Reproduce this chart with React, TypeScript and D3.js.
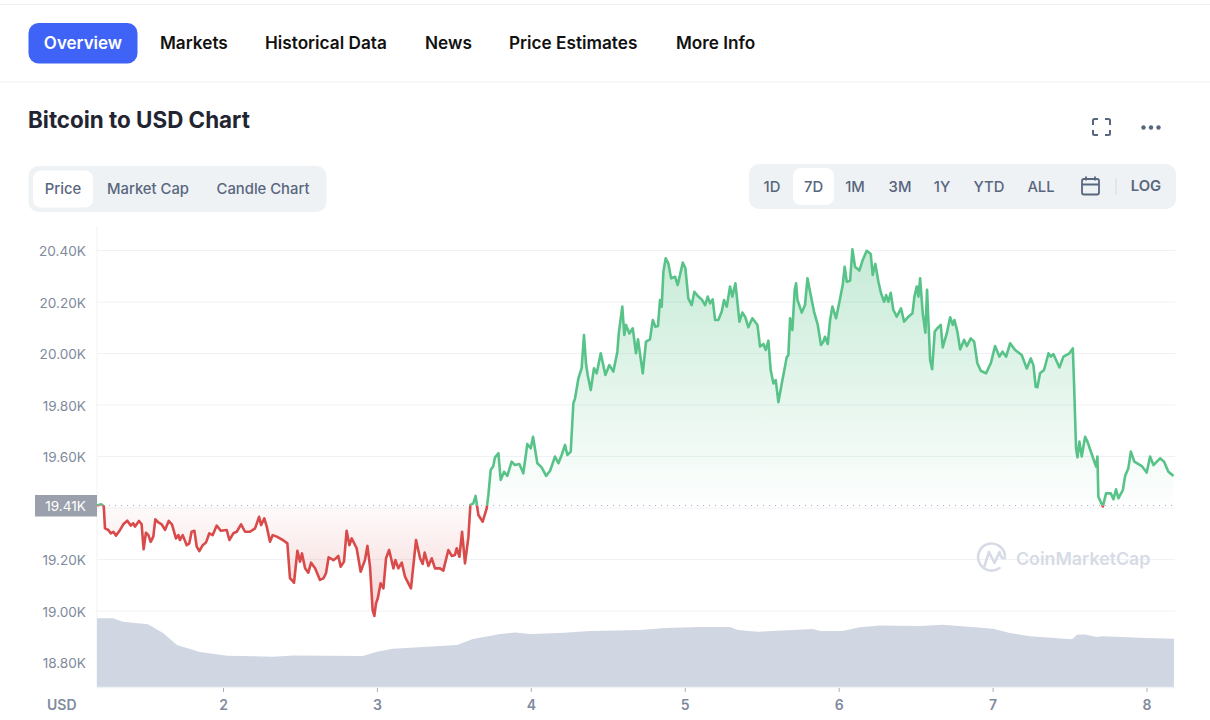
import * as d3 from 'd3';

const W = 1210;
const H = 720;

// price series: day of month and USD
const priceDays = [
  1.180, 1.205, 1.222, 1.230, 1.252, 1.267, 1.284, 1.302, 1.328, 1.349, 1.375, 1.397, 1.414, 1.425, 1.451, 1.468, 1.481, 1.496, 1.512, 1.527,
  1.544, 1.557, 1.577, 1.598, 1.620, 1.644, 1.665, 1.691, 1.707, 1.717, 1.735, 1.761, 1.778, 1.793, 1.811, 1.826, 1.843, 1.865, 1.886, 1.908,
  1.930, 1.956, 1.982, 2.021, 2.038, 2.064, 2.086, 2.114, 2.140, 2.172, 2.205, 2.231, 2.244, 2.265, 2.281, 2.302, 2.320, 2.346, 2.385, 2.415,
  2.432, 2.443, 2.458, 2.480, 2.497, 2.510, 2.530, 2.551, 2.569, 2.595, 2.627, 2.649, 2.666, 2.683, 2.714, 2.731, 2.746, 2.761, 2.783, 2.800,
  2.818, 2.833, 2.865, 2.891, 2.919, 2.935, 2.952, 2.969, 2.980, 2.991, 3.002, 3.021, 3.039, 3.056, 3.076, 3.104, 3.117, 3.136, 3.158, 3.179,
  3.218, 3.251, 3.277, 3.294, 3.307, 3.331, 3.353, 3.374, 3.407, 3.428, 3.461, 3.483, 3.504, 3.515, 3.533, 3.550, 3.569, 3.591, 3.604, 3.623,
  3.638, 3.656, 3.684, 3.710, 3.721, 3.736, 3.753, 3.764, 3.786, 3.801, 3.823, 3.844, 3.872, 3.894, 3.922, 3.948, 3.974, 3.996, 4.011, 4.039,
  4.067, 4.096, 4.122, 4.154, 4.176, 4.197, 4.219, 4.234, 4.256, 4.273, 4.284, 4.306, 4.327, 4.342, 4.355, 4.366, 4.386, 4.407, 4.425, 4.451,
  4.481, 4.507, 4.533, 4.559, 4.568, 4.591, 4.604, 4.615, 4.637, 4.659, 4.680, 4.693, 4.724, 4.745, 4.771, 4.789, 4.806, 4.823, 4.836, 4.847,
  4.858, 4.873, 4.890, 4.908, 4.934, 4.951, 4.984, 5.001, 5.020, 5.042, 5.059, 5.085, 5.107, 5.129, 5.146, 5.161, 5.178, 5.194, 5.215, 5.237,
  5.252, 5.270, 5.291, 5.306, 5.326, 5.352, 5.371, 5.389, 5.410, 5.436, 5.469, 5.486, 5.508, 5.523, 5.540, 5.555, 5.573, 5.588, 5.605, 5.627,
  5.642, 5.659, 5.670, 5.681, 5.696, 5.711, 5.720, 5.729, 5.757, 5.778, 5.794, 5.811, 5.837, 5.861, 5.882, 5.897, 5.908, 5.926, 5.941, 5.956,
  5.980, 6.006, 6.023, 6.036, 6.049, 6.071, 6.086, 6.103, 6.131, 6.153, 6.179, 6.205, 6.218, 6.235, 6.255, 6.272, 6.292, 6.305, 6.320, 6.335,
  6.352, 6.374, 6.402, 6.422, 6.450, 6.476, 6.489, 6.504, 6.515, 6.526, 6.543, 6.560, 6.571, 6.591, 6.604, 6.621, 6.638, 6.660, 6.673, 6.699,
  6.721, 6.738, 6.749, 6.768, 6.786, 6.812, 6.829, 6.855, 6.877, 6.898, 6.920, 6.954, 6.985, 7.013, 7.041, 7.061, 7.085, 7.111, 7.143, 7.186,
  7.219, 7.245, 7.262, 7.277, 7.288, 7.305, 7.331, 7.360, 7.375, 7.392, 7.431, 7.457, 7.496, 7.518, 7.526, 7.539, 7.548, 7.561, 7.576, 7.598,
  7.613, 7.643, 7.669, 7.678, 7.684, 7.713, 7.734, 7.765, 7.782, 7.799, 7.814, 7.843, 7.858, 7.879, 7.895, 7.918, 7.966, 7.998, 8.020, 8.042,
  8.085, 8.111, 8.139, 8.172,
];
const priceValues = [
  19410, 19415, 19408, 19321, 19315, 19302, 19308, 19293, 19315, 19337, 19351, 19332, 19341, 19328, 19350, 19337, 19240, 19304, 19295, 19269,
  19289, 19356, 19344, 19337, 19315, 19350, 19337, 19282, 19295, 19276, 19295, 19256, 19263, 19308, 19312, 19250, 19233, 19256, 19266, 19302,
  19295, 19332, 19312, 19315, 19276, 19302, 19308, 19337, 19308, 19308, 19321, 19366, 19334, 19360, 19328, 19269, 19295, 19289, 19276, 19263,
  19127, 19121, 19110, 19234, 19192, 19224, 19166, 19149, 19188, 19166, 19121, 19127, 19147, 19209, 19198, 19205, 19214, 19172, 19192, 19312,
  19256, 19282, 19244, 19153, 19198, 19253, 19172, 19004, 18981, 19030, 19049, 19108, 19088, 19205, 19237, 19166, 19198, 19166, 19188, 19134,
  19088, 19276, 19205, 19183, 19227, 19175, 19205, 19166, 19166, 19157, 19237, 19214, 19218, 19244, 19211, 19308, 19185, 19286, 19412, 19418,
  19447, 19373, 19347, 19399, 19451, 19548, 19563, 19597, 19613, 19509, 19541, 19525, 19580, 19567, 19571, 19535, 19649, 19632, 19677, 19574,
  19558, 19525, 19545, 19600, 19574, 19606, 19645, 19606, 19619, 19807, 19826, 19904, 19943, 20072, 19962, 19917, 19858, 19943, 19923, 20001,
  19917, 19955, 19930, 20007, 20078, 20182, 20072, 20111, 20078, 20098, 20001, 20055, 19923, 20046, 20055, 20130, 20104, 20107, 20208, 20182,
  20318, 20370, 20350, 20292, 20298, 20266, 20353, 20331, 20214, 20188, 20240, 20221, 20210, 20188, 20221, 20195, 20210, 20130, 20130, 20163,
  20208, 20182, 20260, 20221, 20273, 20124, 20159, 20143, 20102, 20137, 20111, 20027, 20037, 20014, 20050, 19936, 19884, 19897, 19811, 19884,
  19930, 19985, 19994, 20137, 20091, 20247, 20273, 20208, 20159, 20188, 20292, 20240, 20162, 20111, 20033, 20046, 20065, 20037, 20130, 20182,
  20137, 20214, 20266, 20337, 20279, 20283, 20405, 20337, 20322, 20363, 20399, 20386, 20305, 20348, 20279, 20234, 20201, 20227, 20201, 20236,
  20169, 20143, 20175, 20124, 20143, 20156, 20221, 20260, 20221, 20292, 20156, 20081, 20247, 19975, 19939, 20085, 20098, 20111, 20024, 20078,
  20141, 20111, 20130, 20085, 20016, 20053, 20029, 20059, 20046, 19962, 19933, 19923, 19962, 20029, 19988, 20007, 19988, 20040, 20014, 19994,
  19942, 19981, 19955, 19871, 19869, 19923, 19936, 20001, 19988, 19998, 19946, 19988, 20001, 20020, 19884, 19632, 19597, 19658, 19600, 19677,
  19658, 19606, 19561, 19600, 19444, 19406, 19457, 19457, 19434, 19473, 19438, 19470, 19525, 19555, 19619, 19580, 19563, 19538, 19600, 19567,
  19593, 19580, 19541, 19525,
];

// volume band at the bottom, in billions of USD
const volumeDays = [
  1.178, 1.282, 1.347, 1.509, 1.607, 1.698, 1.847, 2.023, 2.322, 2.452, 2.906, 2.997, 3.101, 3.517, 3.621, 3.797, 3.894, 3.992, 4.186, 4.381,
  4.706, 4.868, 5.096, 5.291, 5.343, 5.473, 5.830, 5.876, 6.019, 6.136, 6.266, 6.525, 6.675, 7.000, 7.110, 7.240, 7.513, 7.546, 7.597, 7.675,
  7.708, 8.000, 8.175,
];
const volumeValues = [
  40.4, 40.4, 38.4, 36.9, 31.8, 24.7, 20.6, 18.4, 17.8, 18.6, 18.2, 20.8, 22.5, 24.7, 28.2, 31.2, 32.1, 31.2, 31.8, 32.9,
  33.5, 34.7, 35.3, 35.3, 33.5, 32.5, 34.1, 32.9, 32.9, 35.1, 36.2, 35.9, 36.6, 34.3, 31.8, 29.8, 28.1, 30.8, 30.9, 29.4,
  29.8, 28.8, 28.4,
];

const baseline = 19410;
const yTicks = [18800, 19000, 19200, 19400, 19600, 19800, 20000, 20200, 20400];
const xTicks = [2, 3, 4, 5, 6, 7, 8];

const navItems = [
  { label: 'Markets', x: 160 },
  { label: 'Historical Data', x: 265 },
  { label: 'News', x: 425 },
  { label: 'Price Estimates', x: 509 },
  { label: 'More Info', x: 676 },
];
const chartTabs = [
  { label: 'Price', x: 63 },
  { label: 'Market Cap', x: 148 },
  { label: 'Candle Chart', x: 263 },
];
const ranges = [
  { label: '1D', x: 772 },
  { label: '7D', x: 813.5 },
  { label: '1M', x: 855 },
  { label: '3M', x: 900 },
  { label: '1Y', x: 942 },
  { label: 'YTD', x: 989 },
  { label: 'ALL', x: 1041 },
];

const xScale = d3.scaleLinear([2, 8], [223.5, 1147]);
const yScale = d3.scaleLinear([18800, 20400], [662.6, 250.5]);
const volScale = d3.scaleLinear([0, 50], [687, 602]);

const GREEN = '#58c388';
const RED = '#d94a4b';
const GRID = '#eff2f5';
const MUTED = '#808a9d';
const SLATE = '#58667e';
const FONT = 'Inter, "Noto Sans", sans-serif';

const prices = priceDays.map((d, i) => ({ d, v: priceValues[i] }));
const volumes = volumeDays.map((d, i) => ({ d, v: volumeValues[i] }));

const priceLine = d3.line<{ d: number; v: number }>().x(p => xScale(p.d)).y(p => yScale(p.v));
const priceArea = d3.area<{ d: number; v: number }>().x(p => xScale(p.d)).y0(yScale(baseline)).y1(p => yScale(p.v));
const volumeArea = d3.area<{ d: number; v: number }>().x(p => xScale(p.d)).y0(volScale(0)).y1(p => volScale(p.v));

export default function App() {
  const base = yScale(baseline);
  return (
    <svg width={W} height={H} viewBox={`0 0 ${W} ${H}`} fontFamily={FONT}
      style={{ position: 'absolute', left: 0, top: 0, background: '#fff' }}>
      <defs>
        <linearGradient id="upFill" gradientUnits="userSpaceOnUse" x1="0" x2="0" y1={250} y2={base}>
          <stop offset="0" stopColor={GREEN} stopOpacity={0.34} />
          <stop offset="1" stopColor={GREEN} stopOpacity={0.01} />
        </linearGradient>
        <linearGradient id="downFill" gradientUnits="userSpaceOnUse" x1="0" x2="0" y1={base} y2={617}>
          <stop offset="0" stopColor={RED} stopOpacity={0.02} />
          <stop offset="1" stopColor={RED} stopOpacity={0.24} />
        </linearGradient>
        <clipPath id="above"><rect x={90} y={220} width={1100} height={base - 220} /></clipPath>
        <clipPath id="below"><rect x={90} y={base} width={1100} height={140} /></clipPath>
      </defs>

      {/* top nav */}
      <line x1={0} x2={W} y1={4.5} y2={4.5} stroke={GRID} />
      <line x1={0} x2={W} y1={82} y2={82} stroke={GRID} />
      <rect x={28.5} y={23} width={109} height={40.5} rx={10} fill="#3f63f6" />
      <text x={83} y={49} textAnchor="middle" fontSize={17} fontWeight={600} fill="#fff">Overview</text>
      {navItems.map(n => (
        <text key={n.label} x={n.x} y={49} fontSize={17.2} fontWeight={600} fill="#111">{n.label}</text>
      ))}

      <text x={28} y={127.5} fontSize={22.4} fontWeight={700} fill="#222531">Bitcoin to USD Chart</text>

      {/* fullscreen + more icons */}
      <path d="M1093 125v-4.5a1.5 1.5 0 0 1 1.5-1.5h3.5M1105 119h3.5a1.5 1.5 0 0 1 1.5 1.5v4.5M1110 130v3.5a1.5 1.5 0 0 1-1.5 1.5h-3.5M1098 135h-3.5a1.5 1.5 0 0 1-1.5-1.5v-3.5"
        fill="none" stroke={SLATE} strokeWidth={2} />
      {[1143.5, 1151, 1158.5].map(cx => <circle key={cx} cx={cx} cy={127.5} r={2.2} fill={SLATE} />)}

      {/* chart type tabs */}
      <rect x={28.5} y={166} width={298} height={46} rx={10} fill={GRID} />
      <rect x={33} y={170.5} width={60} height={37} rx={8} fill="#fff" />
      {chartTabs.map(t => (
        <text key={t.label} x={t.x} y={193.5} textAnchor="middle" fontSize={14.8} fontWeight={500} fill={SLATE}>{t.label}</text>
      ))}

      {/* range selector */}
      <rect x={749} y={164} width={427} height={45} rx={10} fill={GRID} />
      <rect x={793} y={168} width={41} height={37} rx={8} fill="#fff" />
      {ranges.map(r => (
        <text key={r.label} x={r.x} y={192} textAnchor="middle" fontSize={14.8} fontWeight={500} fill={SLATE}>{r.label}</text>
      ))}
      <g fill="none" stroke={SLATE} strokeWidth={1.8}>
        <rect x={1082} y={179} width={17} height={15.5} rx={2} />
        <path d="M1082 184.5h17M1086 176.5v4M1095 176.5v4" />
      </g>
      <line x1={1116} x2={1116} y1={178} y2={195} stroke="#d5dae3" />
      <text x={1146} y={191} textAnchor="middle" fontSize={14.8} fontWeight={600} fill={SLATE}>LOG</text>

      {/* grid */}
      <line x1={97} x2={97} y1={226} y2={688} stroke={GRID} />
      {yTicks.map(t => (
        <line key={t} x1={97} x2={1175} y1={yScale(t)} y2={yScale(t)} stroke={GRID} />
      ))}
      {yTicks.filter(t => t !== 19400).map(t => (
        <text key={t} x={86} y={yScale(t) + 5.5} textAnchor="end" fontSize={13.6} fill={MUTED}>
          {(t / 1000).toFixed(2)}K
        </text>
      ))}

      {/* watermark */}
      <g fill="none" stroke="#d6dbe6" strokeWidth={2.6}>
        <path d="M1005 555.5a13.5 13.5 0 1 0-5.5 12.5" strokeLinecap="round" />
        <path d="M984.5 566l4.5-14 5.5 11 5-11c1 4 2 7 5.5 6" strokeLinejoin="round" strokeLinecap="round" />
      </g>
      <text x={1016} y={564.5} fontSize={17.8} fontWeight={600} fill="#d6dbe6">CoinMarketCap</text>

      {/* price: green above the start value, red below */}
      <path d={priceArea(prices) ?? ''} fill="url(#upFill)" clipPath="url(#above)" />
      <path d={priceArea(prices) ?? ''} fill="url(#downFill)" clipPath="url(#below)" />
      <line x1={97} x2={1175} y1={base} y2={base} stroke="#a6b0c3" strokeDasharray="1 5" />
      <path d={priceLine(prices) ?? ''} fill="none" stroke={GREEN} strokeWidth={2.6} strokeLinejoin="round" clipPath="url(#above)" />
      <path d={priceLine(prices) ?? ''} fill="none" stroke={RED} strokeWidth={2.6} strokeLinejoin="round" clipPath="url(#below)" />

      {/* volume */}
      <path d={volumeArea(volumes) ?? ''} fill="#d1d6e3" />

      {/* start value tag */}
      <rect x={35} y={495} width={62} height={21.5} fill="#9aa0ac" />
      <text x={65.5} y={510.5} textAnchor="middle" fontSize={13.6} fill="#fff">19.41K</text>

      {/* x axis */}
      <line x1={97} x2={1175} y1={687.5} y2={687.5} stroke={GRID} strokeWidth={1.5} />
      {xTicks.map(t => (
        <g key={t}>
          <line x1={xScale(t)} x2={xScale(t)} y1={688} y2={692} stroke="#a6b0c3" />
          <text x={xScale(t)} y={710} textAnchor="middle" fontSize={14} fontWeight={600} fill={MUTED}>{t}</text>
        </g>
      ))}
      <text x={47} y={710} fontSize={14} fontWeight={600} fill={MUTED}>USD</text>
    </svg>
  );
}
